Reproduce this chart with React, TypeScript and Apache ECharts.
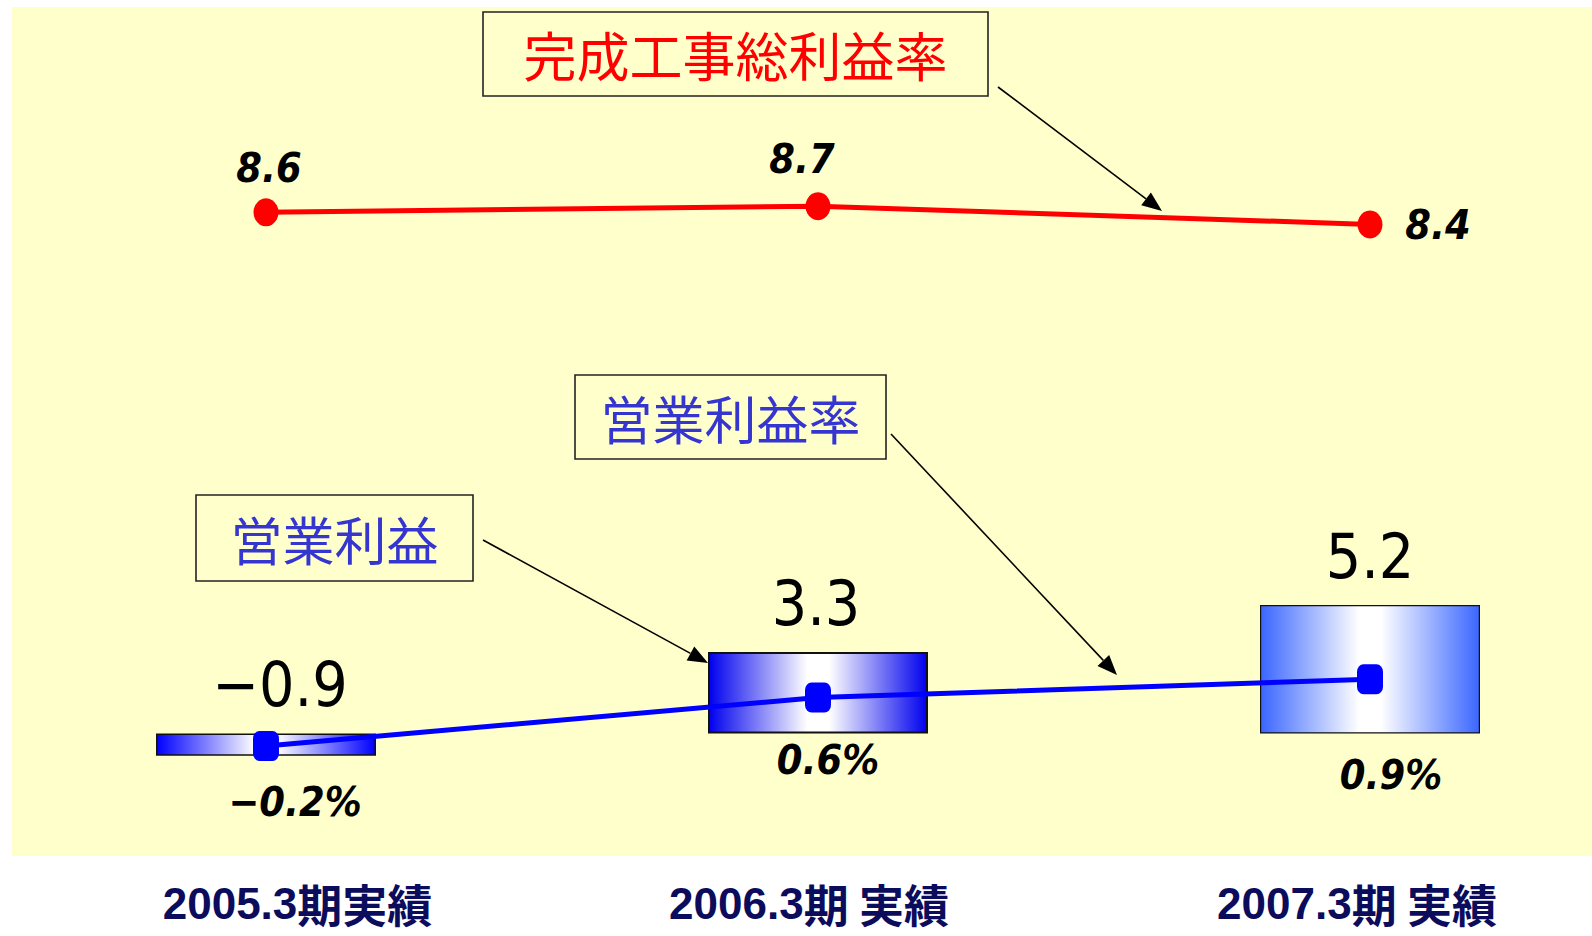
import React, { useEffect, useRef } from "react";
import * as echarts from "echarts";

// ---- data ----
const categories = ["2005.3期実績", "2006.3期 実績", "2007.3期 実績"];
const operatingProfit = [-0.9, 3.3, 5.2]; // 営業利益
const grossProfitMargin = [8.6, 8.7, 8.4]; // 完成工事総利益率 (%)
const operatingMargin = [-0.2, 0.6, 0.9]; // 営業利益率 (%)

// ---- styling helpers (positions / styles kept apart from the data) ----
const NARROW =
  "'Liberation Sans Narrow', 'Arial Narrow', 'DejaVu Sans Condensed', 'Noto Sans CJK JP', sans-serif";
const CJK = "'Noto Sans CJK JP', sans-serif";

const catLabelPadding = [
  [0, 0, 0, 63],
  [0, 18, 0, 0],
  [0, 26, 0, 0],
];
const barLabelOffsets = [
  [14, 0],
  [-2, 0],
  [0, 0],
];
const barEdgeColors = ["#0000ff", "#0000ee", "#3a66ff"];
const barBorderWidths = [1.5, 2, 1.2];
const grossLabelOffsets = [
  [3, -44],
  [-16, -47],
  [68, 1],
];
const opMarginLabelOffsets = [
  [29, 56],
  [10, 63],
  [21, 96],
];

function arrow(x1: number, y1: number, x2: number, y2: number) {
  const dx = x2 - x1;
  const dy = y2 - y1;
  const len = Math.sqrt(dx * dx + dy * dy);
  const ux = dx / len;
  const uy = dy / len;
  const hl = 20;
  const hw = 8;
  const bx = x2 - ux * hl;
  const by = y2 - uy * hl;
  return [
    {
      type: "line",
      z: 20,
      shape: { x1, y1, x2: bx, y2: by },
      style: { stroke: "#000", lineWidth: 1.6 },
    },
    {
      type: "polygon",
      z: 20,
      shape: {
        points: [
          [x2, y2],
          [bx - uy * hw, by + ux * hw],
          [bx + uy * hw, by - ux * hw],
        ],
      },
      style: { fill: "#000" },
    },
  ];
}

function box(
  x: number,
  y: number,
  w: number,
  h: number,
  text: string,
  color: string,
  fontSize: number
) {
  return [
    {
      type: "rect",
      z: 20,
      shape: { x, y, width: w, height: h },
      style: { fill: "rgba(0,0,0,0)", stroke: "#222", lineWidth: 1.6 },
    },
    {
      type: "text",
      z: 21,
      x: x + w / 2,
      y: y + h / 2,
      style: {
        text,
        fill: color,
        font: `${fontSize}px ${CJK}`,
        align: "center",
        verticalAlign: "middle",
      },
    },
  ];
}

export default function App() {
  const ref = useRef<HTMLDivElement>(null);

  useEffect(() => {
    if (!ref.current) return;
    const chart = echarts.init(ref.current, null, { renderer: "svg" });

    const barData = operatingProfit.map((v, i) => ({
      value: v,
      itemStyle: {
        color: new echarts.graphic.LinearGradient(0, 0, 1, 0, [
          { offset: 0, color: barEdgeColors[i] },
          { offset: 0.45, color: "#ffffff" },
          { offset: 0.55, color: "#ffffff" },
          { offset: 1, color: barEdgeColors[i] },
        ]),
        borderColor: "#111",
        borderWidth: barBorderWidths[i],
      },
      label: { offset: barLabelOffsets[i] },
    }));

    const grossData = grossProfitMargin.map((v, i) => ({
      value: v,
      label: { offset: grossLabelOffsets[i] },
    }));
    const opMarginData = operatingMargin.map((v, i) => ({
      value: v,
      label: { offset: opMarginLabelOffsets[i] },
    }));

    const option: any = {
      animation: false,
      backgroundColor: "#ffffff",
      grid: {
        left: -10,
        right: -54,
        top: 0,
        bottom: 79,
        containLabel: false,
        outerBoundsMode: "none",
      },
      xAxis: {
        type: "category",
        data: categories.map((c, i) => ({
          value: c,
          textStyle: { padding: catLabelPadding[i] },
        })),
        axisLine: { show: false },
        axisTick: { show: false },
        splitLine: { show: false },
        axisLabel: {
          interval: 0,
          margin: 24,
          color: "#0c0c5c",
          formatter: (v: string) => {
            const m = v.match(/^([0-9.]+)(.*)$/);
            return m ? `{d|${m[1]}}{c|${m[2]}}` : v;
          },
          rich: {
            d: {
              fontSize: 44,
              fontWeight: "bold",
              color: "#0c0c5c",
              fontFamily: "'Liberation Sans', sans-serif",
              lineHeight: 44,
            },
            c: {
              fontSize: 45,
              fontWeight: "bold",
              color: "#0c0c5c",
              fontFamily: CJK,
              lineHeight: 44,
            },
          },
        },
      },
      yAxis: [
        { type: "value", min: -5, max: 29.7, show: false, splitLine: { show: false } },
        { type: "value", min: -2.03, max: 12.1, show: false, splitLine: { show: false } },
      ],
      graphic: {
        elements: [
          {
            type: "rect",
            z: 0,
            shape: { x: 12, y: 7, width: 1580, height: 849 },
            style: { fill: "#ffffcc" },
          },
          ...box(483, 12, 505, 84, "完成工事総利益率", "#ff0000", 53),
          ...box(575, 375, 311, 84, "営業利益率", "#3535d0", 52),
          ...box(196, 495, 277, 86, "営業利益", "#3535d0", 52),
          ...arrow(998, 87, 1162, 211),
          ...arrow(891, 434, 1117, 675),
          ...arrow(483, 540, 708, 663),
        ],
      },
      series: [
        {
          name: "営業利益",
          type: "bar",
          yAxisIndex: 0,
          barWidth: 220,
          data: barData,
          z: 2,
          label: {
            show: true,
            position: "top",
            distance: 18,
            fontSize: 62,
            color: "#000",
            fontFamily: NARROW,
            formatter: (p: any) => String(p.value).replace("-", "−"),
          },
        },
        {
          name: "完成工事総利益率",
          type: "line",
          yAxisIndex: 1,
          data: grossData,
          z: 4,
          symbol: "circle",
          symbolSize: [25, 28],
          lineStyle: { color: "#ff0000", width: 5 },
          itemStyle: { color: "#ff0000" },
          label: {
            show: true,
            position: "inside",
            fontSize: 41,
            fontStyle: "italic",
            fontWeight: "bold",
            color: "#000",
            fontFamily: NARROW,
            formatter: (p: any) => String(p.value),
          },
        },
        {
          name: "営業利益率",
          type: "line",
          yAxisIndex: 1,
          data: opMarginData,
          z: 4,
          symbol: "roundRect",
          symbolSize: [26, 30],
          lineStyle: { color: "#0000ff", width: 5 },
          itemStyle: { color: "#0000ff" },
          label: {
            show: true,
            position: "inside",
            fontSize: 41,
            fontStyle: "italic",
            fontWeight: "bold",
            color: "#000",
            fontFamily: NARROW,
            formatter: (p: any) => String(p.value).replace("-", "−") + "%",
          },
        },
      ],
    };

    chart.setOption(option);
    return () => chart.dispose();
  }, []);

  return (
    <div
      ref={ref}
      style={{ position: "absolute", left: 0, top: 0, width: 1592, height: 936 }}
    />
  );
}
